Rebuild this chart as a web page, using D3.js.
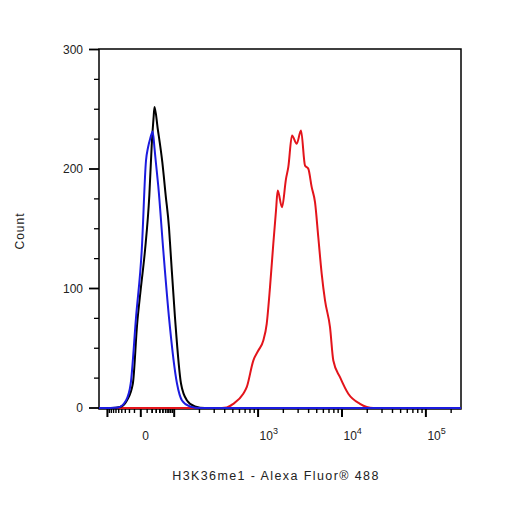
<!DOCTYPE html>
<html><head><meta charset="utf-8">
<script src="https://cdn.jsdelivr.net/npm/d3@7"></script>
<style>body{margin:0;background:#fff}svg{display:block}</style>
</head><body><svg id="c" width="506" height="506"></svg>
<script>
// ---- data (fluorescence intensity vs. count) ----
const redX   = [-126, 324, 422, 506, 666, 732, 877, 1006, 1154, 1267, 1387, 1518, 1635, 1713, 1928, 2151, 2291, 2536, 2886, 3247, 3624, 3967, 4355, 4769, 5220, 5731, 6275, 7197, 7881, 9467, 11892, 16400, 23616, 262144];
const redY   = [0, 0, 0.5, 3.5, 11.9, 17.4, 39.7, 48.1, 56.5, 70.5, 101.1, 137.4, 165.3, 182.0, 168.0, 191.8, 201.5, 228.0, 221.1, 232.2, 202.9, 200.2, 184.8, 172.2, 142.9, 112.3, 90.0, 67.6, 39.7, 25.8, 11.9, 3.5, 0, 0];
const blackX = [-126, -77, -46, -26, -13, -5.5, 0, 6.3, 14.1, 19.0, 23.1, 25.5, 33.8, 48.0, 60.3, 74.1, 81.0, 102.2, 120.5, 142.1, 177, 233, 262144];
const blackY = [0, 0, 0.8, 6.3, 20.5, 70, 100, 131.8, 177.8, 219.7, 242.3, 251.9, 233.9, 205.7, 177.8, 150.8, 131.8, 75.7, 20.5, 6.3, 1.3, 0, 0];
const blueX  = [-126, -86, -52.5, -28.2, -17.3, -7.3, 1.3, 8.0, 11.6, 15.9, 21.2, 25.5, 29.2, 35.5, 51.4, 74.1, 108.0, 123.9, 154.3, 203, 262144];
const blueY  = [0, 0, 0.4, 6.3, 20.5, 75.7, 131.8, 207.1, 218.0, 225.5, 231.4, 217.2, 204.6, 185.4, 131.8, 75.7, 20.5, 6.3, 1.3, 0, 0];

const yMajorTicks = [0, 100, 200, 300];
const yMinorTicks = [25, 50, 75, 125, 150, 175, 225, 250, 275];
const xLabelTicks = [0, 1e3, 1e4, 1e5];
const xLabelExp   = ["", "3", "4", "5"];
const xMajorUnlabeled = [-100, 100];
const xDomain = [-126, 262144];
const yDomain = [0, 300];
const xTitle = "H3K36me1 - Alexa Fluor\u00AE 488";
const yTitle = "Count";

(function () {
// ---- biexponential-like display transform ----
const BK = 40, BC = 33;
function biex(v) {
  const a = Math.abs(v), L = Math.log10(100 / BK);
  const r = a >= 100 ? Math.log10(a / BK) : L * Math.log1p(a / BC) / Math.log1p(100 / BC);
  return Math.sign(v) * r;
}
const pL = 99, pR = 461, pT = 49, pB = 409;
const xT = d3.scaleLinear().domain(xDomain.map(biex)).range([pL, pR]);
const X = v => xT(biex(v));
const Y = d3.scaleLinear().domain(yDomain).range([408, pT + 0.5]);

// minor x ticks
const xMinor = [];
[10, 100, 1000, 10000, 100000].forEach(d => {
  for (let m = 2; m <= 9; m++) { const v = m * d; if (v <= xDomain[1]) xMinor.push(v); }
});
for (let m = 1; m <= 9; m++) { xMinor.push(m * 10); xMinor.push(-m * 10); }

const svg = d3.select("#c");
const g = svg.append("g");
const txt = "#222";
const font = "Liberation Sans, Arial, sans-serif";

// frame
g.append("rect").attr("x", pL).attr("y", pT).attr("width", pR - pL).attr("height", pB - pT)
  .attr("fill", "none").attr("stroke", "#000").attr("stroke-width", 1.5);

// y ticks
g.selectAll(".ymaj").data(yMajorTicks).join("line")
  .attr("x1", pL - 10).attr("x2", pL).attr("y1", d => Y(d)).attr("y2", d => Y(d))
  .attr("stroke", "#000").attr("stroke-width", 1.8);
g.selectAll(".ymin").data(yMinorTicks).join("line")
  .attr("x1", pL - 5).attr("x2", pL).attr("y1", d => Y(d)).attr("y2", d => Y(d))
  .attr("stroke", "#000").attr("stroke-width", 1.3);
g.selectAll(".ylab").data(yMajorTicks).join("text")
  .attr("x", 83).attr("y", d => Y(d)).attr("dy", "0.35em").attr("text-anchor", "end")
  .attr("font-family", font).attr("font-size", 12).attr("fill", txt)
  .text(d => d);

// x ticks
g.selectAll(".xmaj").data(xLabelTicks.concat(xMajorUnlabeled)).join("line")
  .attr("x1", d => X(d)).attr("x2", d => X(d)).attr("y1", pB).attr("y2", pB + 8)
  .attr("stroke", "#000").attr("stroke-width", 2);
g.selectAll(".xmin").data(xMinor).join("line")
  .attr("x1", d => X(d)).attr("x2", d => X(d)).attr("y1", pB).attr("y2", pB + 4)
  .attr("stroke", "#000").attr("stroke-width", 1.4);
const xl = g.selectAll(".xlab").data(xLabelTicks).join("text")
  .attr("x", d => X(d) + 1.5).attr("y", 440)
  .attr("font-family", font).attr("font-size", 12).attr("fill", txt);
xl.each(function (d, i) {
  const t = d3.select(this);
  if (d === 0) { t.text("0"); return; }
  t.append("tspan").text("10");
  t.append("tspan").attr("dy", -6).attr("font-size", 9).text(xLabelExp[i]);
});

// curves
const line = d3.line().x(d => X(d[0])).y(d => Y(d[1])).curve(d3.curveMonotoneX);
const series = [
  {xs: redX, ys: redY, c: "#e3141b"},
  {xs: blackX, ys: blackY, c: "#000000"},
  {xs: blueX, ys: blueY, c: "#1c1ce0"}
];
series.forEach(s => {
  g.append("path").datum(s.xs.map((v, i) => [v, s.ys[i]]))
    .attr("d", line).attr("fill", "none").attr("stroke", s.c).attr("stroke-width", 2)
    .attr("stroke-linejoin", "round");
});

// titles
g.append("text").attr("x", 276).attr("y", 480).attr("text-anchor", "middle")
  .attr("font-family", font).attr("font-size", 12.5).attr("letter-spacing", 1.4).attr("fill", txt)
  .text(xTitle);
g.append("text").attr("transform", "translate(24,231) rotate(-90)").attr("text-anchor", "middle")
  .attr("font-family", font).attr("font-size", 12).attr("letter-spacing", 1).attr("fill", txt)
  .text(yTitle);
})();
</script>
</body></html>
